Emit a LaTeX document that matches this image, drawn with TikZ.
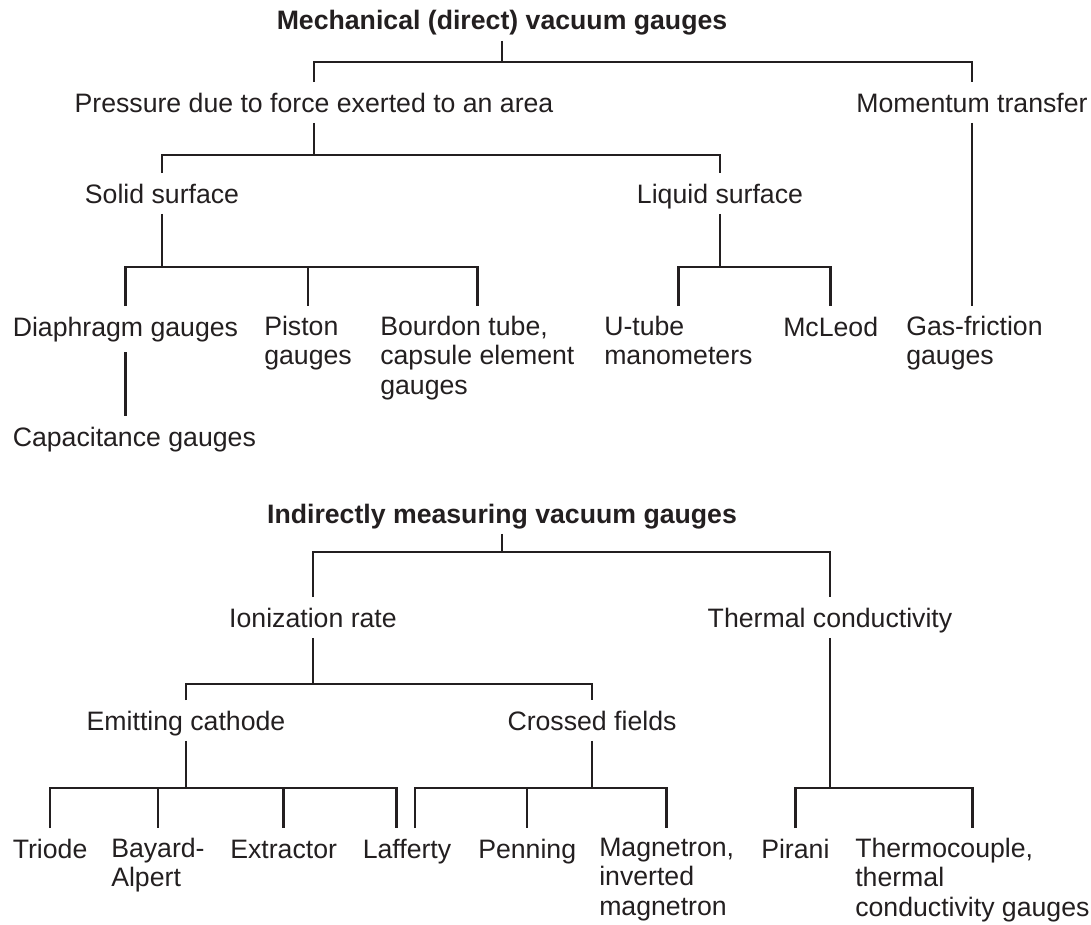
\documentclass[tikz,border=0pt]{standalone}
\usepackage{fontspec}
\setmainfont{Liberation Sans}
\usepackage{tikz}
\definecolor{ink}{RGB}{35,31,32}

\begin{document}
\begin{tikzpicture}[x=0.75pt,y=0.75pt,yscale=-1,xscale=1,
		every node/.style={font=\fontsize{20}{22}\selectfont,text=ink},
		grp/.style={anchor=base,inner xsep=0pt,inner ysep=8pt,text height=14.3pt,text depth=0pt},
		head/.style={grp,font=\fontsize{20}{22}\selectfont\bfseries},
		leaf/.style={anchor=north west,align=left,inner xsep=0pt,inner ysep=7.5pt,
			execute at begin node={\rule{0pt}{15pt}}},
		conn/.style={draw=ink,line width=1.9pt}]
		\useasboundingbox (0,0) rectangle (1091,924);
		
		%% Mechanical gauges
		% Text Node
		\node [head] (mech) at (502,30) {Mechanical (direct) vacuum gauges};
		\node [grp] (press) at (314,112) {Pressure due to force exerted to an area};
		\node [grp] (mom) at (972,112) {Momentum transfer};
		\node [grp] (solid) at (162,203) {Solid surface};
		\node [grp] (liquid) at (720,203) {Liquid surface};
		% Text Node
		\node [leaf] (dia) at (12.5,306) {Diaphragm gauges};
		\node [leaf] (pist) at (264,306) {Piston\\gauges};
		\node [leaf] (bour) at (380,306) {Bourdon tube,\\capsule element\\gauges};
		\node [leaf] (utube) at (604,306) {U-tube\\manometers};
		\node [leaf] (mcl) at (783,306) {McLeod};
		\node [leaf] (gas) at (906,306) {Gas-friction\\gauges};
		\node [leaf] (cap) at (12.5,416) {Capacitance gauges};
		
		%Straight Lines
		\coordinate (j1) at (502,62);
		\coordinate (j2) at (314,155);
		\coordinate (j3) at (162,267);
		\coordinate (j4) at (720,267);
		\draw [conn] (mech.south) -- (j1);
		\draw [conn] (press.north) |- (j1) -| (mom.north);
		\draw [conn] (press.south) -- (j2);
		\draw [conn] (solid.north) |- (j2) -| (liquid.north);
		\draw [conn] (solid.south) -- (j3);
		\draw [conn] (dia.north) |- (j3) -| (bour.north);
		\draw [conn] (j3 -| pist.north) -- (pist.north);
		\draw [conn] (liquid.south) -- (j4);
		\draw [conn] (utube.north) |- (j4) -| (mcl.north);
		\draw [conn] (mom.south) -- (mom.south |- gas.north);
		\draw [conn] (dia.south) -- (dia.south |- cap.north);
		
		%% Indirect gauges
		% Text Node
		\node [head] (ind) at (502,523) {Indirectly measuring vacuum gauges};
		\node [grp] (ion) at (313,627) {Ionization rate};
		\node [grp] (therm) at (830,627) {Thermal conductivity};
		\node [grp] (emit) at (186,730) {Emitting cathode};
		\node [grp] (cross) at (592,730) {Crossed fields};
		% Text Node
		\node [leaf] (tri) at (12.5,828) {Triode};
		\node [leaf] (bay) at (111,828) {Bayard-\\Alpert};
		\node [leaf] (ext) at (230,828) {Extractor};
		\node [leaf] (laf) at (362.5,828) {Lafferty};
		\node [leaf] (pen) at (478,828) {Penning};
		\node [leaf] (mag) at (599,828) {Magnetron,\\inverted\\magnetron};
		\node [leaf] (pir) at (761,828) {Pirani};
		\node [leaf] (thc) at (855,828) {Thermocouple,\\thermal\\conductivity gauges};
		
		%Straight Lines
		\coordinate (j5) at (502,552);
		\coordinate (j6) at (313,684);
		\coordinate (j7) at (186,788);
		\coordinate (j8) at (592,788);
		\coordinate (j9) at (830,788);
		\draw [conn] (ind.south) -- (j5);
		\draw [conn] (ion.north) |- (j5) -| (therm.north);
		\draw [conn] (ion.south) -- (j6);
		\draw [conn] (emit.north) |- (j6) -| (cross.north);
		\draw [conn] (emit.south) -- (j7);
		\draw [conn] (tri.north) |- (j7) -| ([xshift=-8pt]laf.north);
		\foreach \n in {bay,ext}
		\draw [conn] (j7 -| \n.north) -- (\n.north);
		\draw [conn] (cross.south) -- (j8);
		\draw [conn] ([xshift=6pt]laf.north) |- (j8) -| (mag.north);
		\draw [conn] (j8 -| pen.north) -- (pen.north);
		\draw [conn] (therm.south) -- (j9);
		\draw [conn] (pir.north) |- (j9) -| (thc.north);
		
\end{tikzpicture}
\end{document}
